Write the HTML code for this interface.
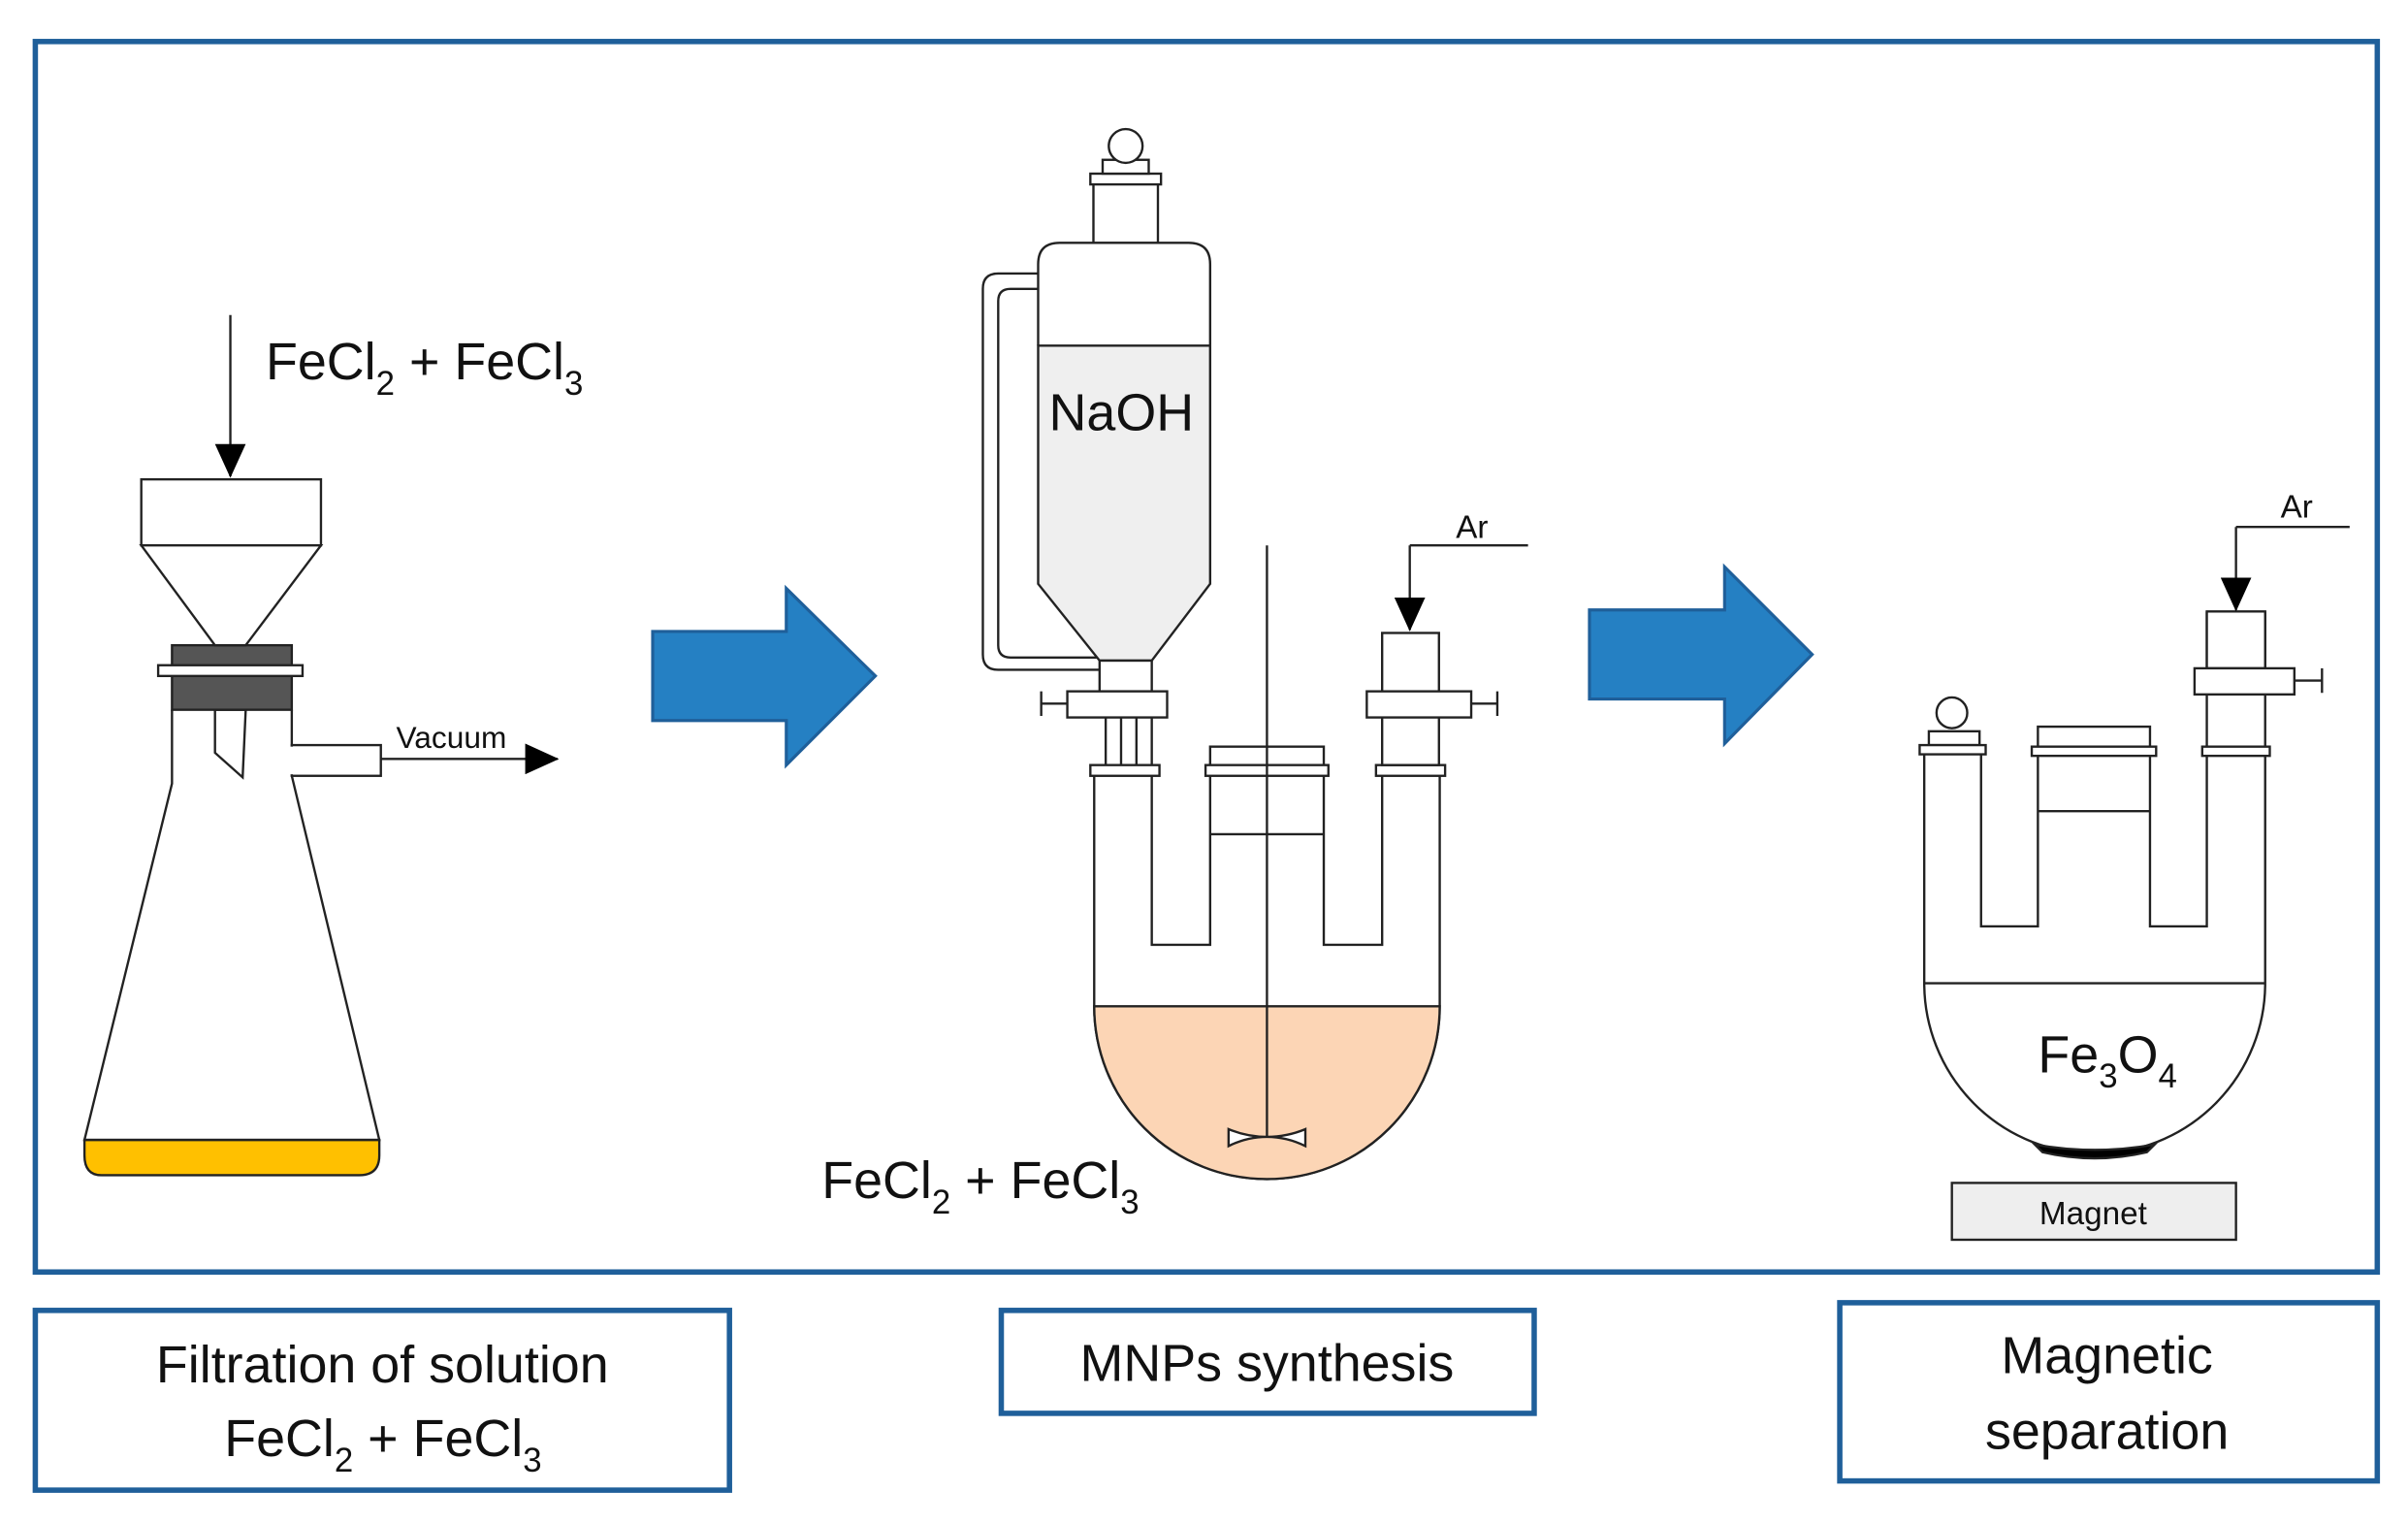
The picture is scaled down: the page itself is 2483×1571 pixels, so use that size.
<!DOCTYPE html>
<html><head><meta charset="utf-8"><style>
html,body{margin:0;padding:0;background:#fff}
svg{display:block}
text{font-family:"Liberation Sans","DejaVu Sans",sans-serif;fill:#111}
</style></head><body>
<svg width="2483" height="1571" viewBox="0 0 1568 992" xmlns="http://www.w3.org/2000/svg">
<defs>
<marker id="ahb" markerWidth="22" markerHeight="20" refX="21" refY="10" orient="auto" markerUnits="userSpaceOnUse"><path d="M0,0 L22,10 L0,20 z" fill="#000"/></marker>
</defs>
<rect width="1568" height="992" fill="#fff"/>
<g fill="none" stroke="#1f5f9a" stroke-width="3.5">
<rect x="23" y="27" width="1525" height="801"/>
<rect x="23" y="853" width="452" height="117"/>
<rect x="652" y="853" width="347" height="67"/>
<rect x="1198" y="848" width="350" height="116"/>
</g>
<path d="M425,411 L512,411 L512,383 L570,440 L512,498 L512,469 L425,469 Z" fill="#2580c3" stroke="#1f5f9a" stroke-width="2"/>
<path d="M1035,397 L1123,397 L1123,369 L1180,426 L1123,484 L1123,455 L1035,455 Z" fill="#2580c3" stroke="#1f5f9a" stroke-width="2"/>

<g stroke="#222" stroke-width="1.5" fill="#fff">
<line x1="150" y1="205" x2="150" y2="310" marker-end="url(#ahb)"/>
<path d="M55,742 L247,742 L247,752 Q247,765 234,765 L66,765 Q55,765 55,752 Z" fill="#ffc000"/>
<path d="M112,462 L112,510 L55,742 L247,742 L190,505 L190,462" fill="none"/>
<rect x="190" y="485" width="58" height="20"/>
<line x1="190" y1="486" x2="190" y2="504" stroke="#fff" stroke-width="3"/>
<path d="M140,462 L140,490 L158,506 L160,462 Z"/>
<rect x="112" y="420" width="78" height="42" fill="#555"/>
<rect x="103" y="433" width="94" height="7" fill="#fff"/>
<rect x="92" y="312" width="117" height="43"/>
<path d="M92,355 L140,420 L160,420 L209,355 Z"/>
<line x1="248" y1="494" x2="363" y2="494" marker-end="url(#ahb)"/>
</g>
<text x="258" y="487" font-size="20">Vacuum</text>
<text x="173" y="247" font-size="34">FeCl<tspan font-size="22" dy="10">2</tspan><tspan dy="-10"> + FeCl</tspan><tspan font-size="22" dy="10">3</tspan></text>

<g stroke="#222" stroke-width="1.5" fill="#fff">
<path d="M712.5,505 L712.5,655 A112.5,112.5 0 0 0 937.5,655 L937.5,505" />
<path d="M712.5,655 A112.5,112.5 0 0 0 937.5,655 Z" fill="#fcd5b5"/>
<path d="M750,505 L750,615 L788,615 L788,505 M862,505 L862,615 L900,615 L900,505"/>
<path d="M788,543 L862,543"/>
<rect x="788" y="486" width="74" height="14"/>
<rect x="785" y="498" width="80" height="7"/>
<rect x="710" y="498" width="45" height="7"/>
<rect x="896" y="498" width="45" height="7"/>
<line x1="825" y1="355" x2="825" y2="740"/>
<path d="M800,735 Q812,740 825,740 Q812,740 800,746 Z M850,735 Q838,740 825,740 Q838,740 850,746 Z"/>
<rect x="900" y="412" width="37" height="86"/>
<rect x="890" y="450" width="68" height="17"/>
<line x1="958" y1="458" x2="975" y2="458"/><line x1="975" y1="450" x2="975" y2="466"/>
<line x1="995" y1="355" x2="918" y2="355"/>
<line x1="918" y1="355" x2="918" y2="410" marker-end="url(#ahb)"/>
<path d="M676,178 L650,178 Q640,178 640,188 L640,426 Q640,436 650,436 L716,436 M676,188 L658,188 Q650,188 650,196 L650,420 Q650,428 658,428 L716,428" fill="none"/>
<path d="M676,225 L788,225 L788,380 L750,430 L716,430 L676,380 Z" fill="#efefef"/>
<path d="M676,225 L676,172 Q676,158 690,158 L774,158 Q788,158 788,172 L788,225" fill="none"/>
<rect x="716" y="430" width="34" height="20"/>
<rect x="712" y="118" width="42" height="40"/>
<rect x="710" y="113" width="46" height="7"/>
<rect x="718" y="104" width="30" height="9"/>
<circle cx="733" cy="95" r="11"/>
<rect x="695" y="450" width="65" height="17"/>
<line x1="695" y1="458" x2="678" y2="458"/><line x1="678" y1="450" x2="678" y2="466"/>
<path d="M720,467 L720,498 M730,467 L730,498 M740,467 L740,498 M750,467 L750,498"/>
</g>
<text x="683" y="280" font-size="34">NaOH</text>
<text x="948" y="350" font-size="21">Ar</text>
<text x="535" y="780" font-size="34">FeCl<tspan font-size="22" dy="10">2</tspan><tspan dy="-10"> + FeCl</tspan><tspan font-size="22" dy="10">3</tspan></text>

<g stroke="#222" stroke-width="1.5" fill="#fff">
<path d="M1253,490 L1253,640 A111,111 0 0 0 1475,640 L1475,398"/>
<path d="M1290,490 L1290,603 L1327,603 L1327,490 M1400,490 L1400,603 L1437,603 L1437,398 M1253,640 L1475,640"/>
<path d="M1327,528 L1400,528"/>
<path d="M1325,745 Q1364,752 1403,745 L1398,750 Q1364,758 1330,750 Z" fill="#000"/>
<rect x="1327" y="473" width="73" height="14"/>
<rect x="1323" y="486" width="81" height="6"/>
<rect x="1256" y="476" width="33" height="9"/>
<rect x="1250" y="485" width="43" height="6"/>
<circle cx="1271" cy="464" r="10"/>
<rect x="1437" y="398" width="38" height="37"/>
<rect x="1429" y="435" width="65" height="17"/>
<line x1="1494" y1="443" x2="1512" y2="443"/><line x1="1512" y1="435" x2="1512" y2="451"/>
<rect x="1434" y="486" width="44" height="6"/>
<line x1="1530" y1="343" x2="1456" y2="343"/>
<line x1="1456" y1="343" x2="1456" y2="397" marker-end="url(#ahb)"/>
<rect x="1271" y="770" width="185" height="37" fill="#eeeeee"/>
</g>
<text x="1485" y="337" font-size="21">Ar</text>
<text x="1327" y="698" font-size="34">Fe<tspan font-size="22" dy="10">3</tspan><tspan dy="-10">O</tspan><tspan font-size="22" dy="10">4</tspan></text>
<text x="1363" y="797" font-size="21" text-anchor="middle">Magnet</text>

<text x="249" y="900" font-size="34" text-anchor="middle">Filtration of solution</text>
<text x="146" y="948" font-size="34">FeCl<tspan font-size="22" dy="10">2</tspan><tspan dy="-10"> + FeCl</tspan><tspan font-size="22" dy="10">3</tspan></text>
<text x="825" y="899" font-size="34" text-anchor="middle">MNPs synthesis</text>
<text x="1372" y="894" font-size="34" text-anchor="middle">Magnetic</text>
<text x="1372" y="943" font-size="34" text-anchor="middle">separation</text>
</svg>
</body></html>
